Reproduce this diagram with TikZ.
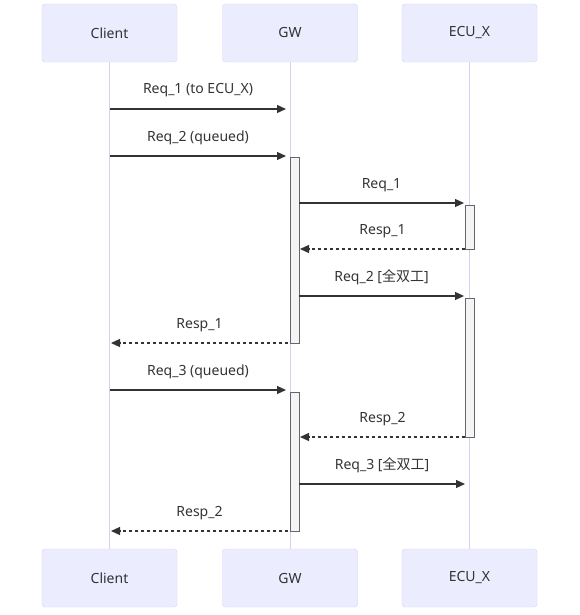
\documentclass[tikz,border=0pt]{standalone}
\usepackage{fontspec}
\setmainfont{Noto Sans}
\newfontfamily\cjk{Noto Sans CJK SC}
\usetikzlibrary{arrows.meta}
\definecolor{actorfill}{HTML}{ECECFF}
\definecolor{actorline}{HTML}{DACEF3}
\definecolor{barfill}{HTML}{F4F4F4}
\definecolor{barline}{HTML}{666666}
\definecolor{sig}{HTML}{333333}
\begin{document}
\begin{tikzpicture}[x=1pt,y=-1pt,
    actor/.style={draw=actorline, fill=actorfill, rounded corners=3pt,
      minimum width=135pt, minimum height=58pt,
      font=\fontsize{14}{16}\selectfont, text=sig},
    life/.style={draw=actorline, line width=1pt},
    actbar/.style={draw=barline, fill=barfill, minimum width=9pt,
      inner sep=0pt, anchor=north west},
    msg/.style={draw=sig, line width=1.2pt,
      -{Triangle[length=9pt,width=8pt]}},
    reply/.style={msg, dash pattern=on 3pt off 3pt},
    lbl/.style={midway, anchor=base, yshift=15pt, text=sig,
      font=\fontsize{14}{16}\selectfont}]
  \useasboundingbox (0,0) rectangle (579,615);
  % actors, top and bottom
  \node (cTop) at (109.5,33) [actor] {Client}; \node (gTop) at (290,33)
  [actor] {GW}; \node (eTop) at (469.5,33) [actor] {ECU\_X};
  \node (cBot) at (109.5,578) [actor] {Client}; \node (gBot) at (290,578)
  [actor] {GW}; \node (eBot) at (469.5,578) [actor] {ECU\_X};
  \draw[life] (cTop) -- (cBot); \draw[life] (gTop) -- (gBot);
  \draw[life] (eTop) -- (eBot);
  % activations
  \node (gAct1) at (290,157) [actbar, minimum height=186pt] {};
  \node (gAct2) at (290,392) [actbar, minimum height=139pt] {};
  \node (eAct1) at (465,205) [actbar, minimum height=44pt] {};
  \node (eAct2) at (465,298) [actbar, minimum height=139pt] {};
  % message ends
  \coordinate (c1) at (110,109); \coordinate (g1) at (286,109);
  \coordinate (c2) at (110,156); \coordinate (g2) at (286,156);
  \coordinate (g3) at (299,203); \coordinate (e3) at (464,203);
  \coordinate (e4) at (465,249); \coordinate (g4) at (300,249);
  \coordinate (g5) at (299,296); \coordinate (e5) at (464,296);
  \coordinate (g6) at (288,343); \coordinate (c6) at (111,343);
  \coordinate (c7) at (110,390); \coordinate (g7) at (286,390);
  \coordinate (e8) at (465,437); \coordinate (g8) at (300,437);
  \coordinate (g9) at (299,484); \coordinate (e9) at (465,484);
  \coordinate (g10) at (288,531); \coordinate (c10) at (111,531);
  % messages
  \draw[msg] (c1) -- node (l1) [lbl] {Req\_1 (to ECU\_X)} (g1);
  \draw[msg] (c2) -- node (l2) [lbl] {Req\_2 (queued)} (g2);
  \draw[msg] (g3) -- node (l3) [lbl] {Req\_1} (e3);
  \draw[reply] (e4) -- node (l4) [lbl] {Resp\_1} (g4);
  \draw[msg] (g5) -- node (l5) [lbl] {Req\_2 [{\cjk 全双工}]} (e5);
  \draw[reply] (g6) -- node (l6) [lbl] {Resp\_1} (c6);
  \draw[msg] (c7) -- node (l7) [lbl] {Req\_3 (queued)} (g7);
  \draw[reply] (e8) -- node (l8) [lbl] {Resp\_2} (g8);
  \draw[msg] (g9) -- node (l9) [lbl] {Req\_3 [{\cjk 全双工}]} (e9);
  \draw[reply] (g10) -- node (l10) [lbl] {Resp\_2} (c10);
\end{tikzpicture}
\end{document}
